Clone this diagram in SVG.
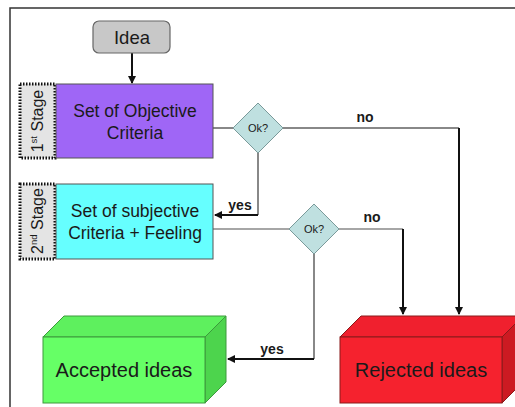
<svg xmlns="http://www.w3.org/2000/svg" width="515" height="407" viewBox="0 0 515 407">
<style>
text{font-family:"Liberation Sans",Arial,sans-serif;fill:#1a1a1a}
.lbl{font-size:17.5px;text-anchor:middle}
.big{font-size:20px;text-anchor:middle}
.stage{font-size:16px;text-anchor:middle}
.yn{font-size:14px;font-weight:bold;text-anchor:middle}
.ok{font-size:11px;text-anchor:middle}
.dot{fill:#e4e4e4;stroke:#111;stroke-width:3;stroke-dasharray:1.5 1.5}
.dia{fill:#bfe0e0;stroke:#7a9a9a;stroke-width:1}
.ln{fill:none;stroke:#888;stroke-width:2}
.ar{fill:none;stroke:#111;stroke-width:2}
</style>
<defs>
<marker id="ah" markerWidth="8" markerHeight="8" refX="7" refY="4" orient="auto" markerUnits="userSpaceOnUse">
<path d="M0,0 L8,4 L0,8 z" fill="#111"/>
</marker>
</defs>
<rect width="515" height="407" fill="#fff"/>
<path d="M10,407 V8 H515" fill="none" stroke="#333" stroke-width="1.5"/>

<g id="connectors">
<line class="ar" x1="132" y1="53" x2="132" y2="83" marker-end="url(#ah)"/>
<line class="ln" x1="213" y1="128" x2="233" y2="128"/>
<polyline class="ln" points="283,128 459,128"/>
<polyline class="ar" points="459,128 459,314" marker-end="url(#ah)"/>
<polyline class="ln" points="258,153 258,215"/>
<polyline class="ar" points="258,215 215,215" marker-end="url(#ah)"/>
<line class="ln" x1="213" y1="229" x2="289" y2="229" style="stroke-width:1.5"/>
<polyline class="ln" points="339,229 403,229" style="stroke-width:1.5"/>
<polyline class="ar" points="403,229 403,314" marker-end="url(#ah)"/>
<polyline class="ln" points="314,254 314,359"/>
<polyline class="ar" points="314,359 228,359" marker-end="url(#ah)"/>
<text class="yn" x="365" y="122">no</text>
<text class="yn" x="240" y="210">yes</text>
<text class="yn" x="372" y="222">no</text>
<text class="yn" x="272" y="354">yes</text>
</g>

<g id="idea">
<rect x="93" y="21" width="77" height="32" rx="6" fill="#c8c8c8" stroke="#666" stroke-width="1.2"/>
<text class="big" x="132" y="44" style="font-size:18.5px">Idea</text>
</g>

<g id="stage1">
<rect class="dot" x="20" y="84" width="35" height="74"/>
<text class="stage" transform="translate(43,121) rotate(-90)">1<tspan font-size="9.5" dy="-6">st</tspan><tspan dy="6"> Stage</tspan></text>
</g>

<g id="objective">
<rect x="56" y="84" width="157" height="74" fill="#9f66f6" stroke="#555" stroke-width="1"/>
<text class="lbl" x="135" y="117">Set of Objective</text>
<text class="lbl" x="135" y="139">Criteria</text>
</g>

<g id="ok1">
<polygon class="dia" points="258,103 283,128 258,153 233,128"/>
<text class="ok" x="258" y="132">Ok?</text>
</g>

<g id="stage2">
<rect class="dot" x="20" y="184" width="35" height="75"/>
<text class="stage" transform="translate(43,221) rotate(-90)">2<tspan font-size="9.5" dy="-6">nd</tspan><tspan dy="6"> Stage</tspan></text>
</g>

<g id="subjective">
<rect x="56" y="184" width="157" height="75" fill="#66ffff" stroke="#555" stroke-width="1"/>
<text class="lbl" x="135" y="217">Set of subjective</text>
<text class="lbl" x="135" y="239">Criteria + Feeling</text>
</g>

<g id="ok2">
<polygon class="dia" points="314,204 339,229 314,254 289,229"/>
<text class="ok" x="314" y="233">Ok?</text>
</g>

<g id="accepted">
<polygon points="43,337 64,316 226,316 205,337" fill="#5ef05e" stroke="#3c9a3c" stroke-width="1"/>
<polygon points="205,337 226,316 226,382 205,403" fill="#4dd44d" stroke="#3c9a3c" stroke-width="1"/>
<rect x="43" y="337" width="162" height="66" fill="#66ff66" stroke="#3c9a3c" stroke-width="1"/>
<text class="big" x="124" y="377">Accepted ideas</text>
</g>

<g id="rejected">
<polygon points="340,337 361,316 523,316 502,337" fill="#f0202e" stroke="#8a1a1a" stroke-width="1"/>
<polygon points="502,337 523,316 523,382 502,403" fill="#cc1a22" stroke="#8a1a1a" stroke-width="1"/>
<rect x="340" y="337" width="162" height="66" fill="#f5222e" stroke="#8a1a1a" stroke-width="1"/>
<text class="big" x="421" y="377">Rejected ideas</text>
</g>
</svg>
